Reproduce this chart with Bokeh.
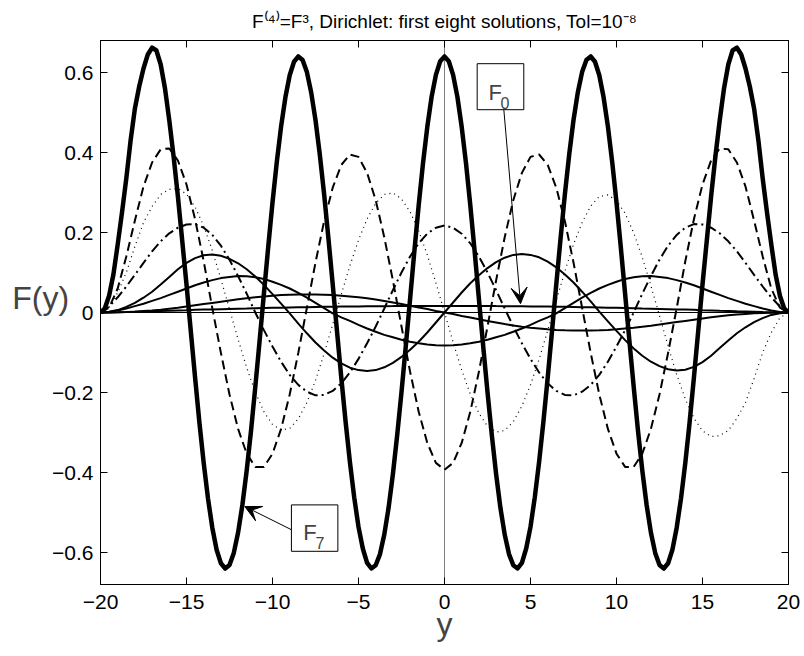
from bokeh.plotting import figure
from bokeh.models import (Range1d, FixedTicker, LinearAxis, Label, Arrow, VeeHead,
                          BoxAnnotation, Span, CustomJSTickFormatter)
from bokeh.embed import file_html
from bokeh.resources import INLINE

# ---------------- data ----------------
Y = [-20.0, -19.5, -19.0, -18.5, -18.0, -17.5, -17.0, -16.5, -16.0, -15.5,
     -15.0, -14.5, -14.0, -13.5, -13.0, -12.5, -12.0, -11.5, -11.0, -10.5,
     -10.0, -9.5, -9.0, -8.5, -8.0, -7.5, -7.0, -6.5, -6.0, -5.5,
     -5.0, -4.5, -4.0, -3.5, -3.0, -2.5, -2.0, -1.5, -1.0, -0.5,
     0.0,
     0.5, 1.0, 1.5, 2.0, 2.5, 3.0, 3.5, 4.0, 4.5, 5.0,
     5.5, 6.0, 6.5, 7.0, 7.5, 8.0, 8.5, 9.0, 9.5, 10.0,
     10.5, 11.0, 11.5, 12.0, 12.5, 13.0, 13.5, 14.0, 14.5, 15.0,
     15.5, 16.0, 16.5, 17.0, 17.5, 18.0, 18.5, 19.0, 19.5, 20.0]

# finer sampling for the large-amplitude solution F7
Y7 = [-20.0, -19.75, -19.5, -19.25, -19.0, -18.75, -18.5, -18.25,
      -18.0, -17.75, -17.5, -17.25, -17.0, -16.75, -16.5, -16.25,
      -16.0, -15.75, -15.5, -15.25, -15.0, -14.75, -14.5, -14.25,
      -14.0, -13.75, -13.5, -13.25, -13.0, -12.75, -12.5, -12.25,
      -12.0, -11.75, -11.5, -11.25, -11.0, -10.75, -10.5, -10.25,
      -10.0, -9.75, -9.5, -9.25, -9.0, -8.75, -8.5, -8.25,
      -8.0, -7.75, -7.5, -7.25, -7.0, -6.75, -6.5, -6.25,
      -6.0, -5.75, -5.5, -5.25, -5.0, -4.75, -4.5, -4.25,
      -4.0, -3.75, -3.5, -3.25, -3.0, -2.75, -2.5, -2.25,
      -2.0, -1.75, -1.5, -1.25, -1.0, -0.75, -0.5, -0.25,
      0.0,
      0.25, 0.5, 0.75, 1.0, 1.25, 1.5, 1.75, 2.0,
      2.25, 2.5, 2.75, 3.0, 3.25, 3.5, 3.75, 4.0,
      4.25, 4.5, 4.75, 5.0, 5.25, 5.5, 5.75, 6.0,
      6.25, 6.5, 6.75, 7.0, 7.25, 7.5, 7.75, 8.0,
      8.25, 8.5, 8.75, 9.0, 9.25, 9.5, 9.75, 10.0,
      10.25, 10.5, 10.75, 11.0, 11.25, 11.5, 11.75, 12.0,
      12.25, 12.5, 12.75, 13.0, 13.25, 13.5, 13.75, 14.0,
      14.25, 14.5, 14.75, 15.0, 15.25, 15.5, 15.75, 16.0,
      16.25, 16.5, 16.75, 17.0, 17.25, 17.5, 17.75, 18.0,
      18.25, 18.5, 18.75, 19.0, 19.25, 19.5, 19.75, 20.0]

F7 = [0.000, 0.010, 0.042, 0.095, 0.170, 0.250, 0.335, 0.430,
      0.510, 0.565, 0.610, 0.645, 0.662, 0.655, 0.620, 0.560,
      0.480, 0.390, 0.290, 0.180, 0.070, -0.047, -0.163, -0.275,
      -0.376, -0.465, -0.538, -0.593, -0.627, -0.640, -0.631, -0.601,
      -0.550, -0.481, -0.395, -0.296, -0.186, -0.071, 0.047, 0.163,
      0.275, 0.376, 0.465, 0.538, 0.593, 0.627, 0.640, 0.631,
      0.601, 0.550, 0.481, 0.395, 0.296, 0.186, 0.071, -0.047,
      -0.163, -0.273, -0.374, -0.462, -0.536, -0.590, -0.626, -0.640,
      -0.632, -0.604, -0.555, -0.488, -0.404, -0.306, -0.199, -0.084,
      0.034, 0.154, 0.268, 0.373, 0.464, 0.539, 0.594, 0.628,
      0.640,
      0.628, 0.594, 0.539, 0.464, 0.373, 0.268, 0.154, 0.034,
      -0.084, -0.199, -0.306, -0.404, -0.488, -0.555, -0.604, -0.632,
      -0.640, -0.626, -0.590, -0.536, -0.462, -0.374, -0.273, -0.163,
      -0.047, 0.071, 0.186, 0.296, 0.395, 0.481, 0.550, 0.601,
      0.631, 0.640, 0.627, 0.593, 0.538, 0.465, 0.376, 0.275,
      0.163, 0.047, -0.071, -0.186, -0.296, -0.395, -0.481, -0.550,
      -0.601, -0.631, -0.640, -0.627, -0.593, -0.538, -0.465, -0.376,
      -0.275, -0.163, -0.047, 0.070, 0.180, 0.290, 0.390, 0.480,
      0.560, 0.620, 0.655, 0.662, 0.645, 0.610, 0.565, 0.510,
      0.430, 0.335, 0.250, 0.170, 0.095, 0.042, 0.010, 0.000]

F6 = [0.000, 0.012, 0.060, 0.140, 0.230, 0.315, 0.375, 0.408, 0.410, 0.380,
      0.320, 0.233, 0.128, 0.011, -0.101, -0.205, -0.291, -0.353, -0.386, -0.386,
      -0.353, -0.291, -0.205, -0.101, 0.012, 0.125, 0.228, 0.312, 0.369, 0.395,
      0.389, 0.349, 0.281, 0.188, 0.080, -0.035, -0.148, -0.248, -0.326, -0.376,
      -0.393,
      -0.376, -0.326, -0.248, -0.148, -0.035, 0.080, 0.188, 0.281, 0.349, 0.389,
      0.395, 0.369, 0.312, 0.228, 0.125, 0.012, -0.101, -0.205, -0.291, -0.353,
      -0.386, -0.386, -0.353, -0.291, -0.205, -0.101, 0.011, 0.128, 0.233, 0.320,
      0.380, 0.410, 0.408, 0.375, 0.315, 0.230, 0.140, 0.060, 0.012, 0.000]

F5 = [0.000, 0.013, 0.050, 0.100, 0.165, 0.225, 0.265, 0.295, 0.308, 0.310,
      0.296, 0.264, 0.216, 0.155, 0.084, 0.008, -0.067, -0.138, -0.199, -0.248,
      -0.280, -0.294, -0.290, -0.266, -0.225, -0.170, -0.103, -0.030, 0.045, 0.117,
      0.181, 0.234, 0.273, 0.295, 0.299, 0.284, 0.252, 0.204, 0.144, 0.074,
      0.000,
      -0.074, -0.144, -0.204, -0.252, -0.284, -0.299, -0.295, -0.273, -0.234, -0.181,
      -0.117, -0.045, 0.030, 0.103, 0.170, 0.225, 0.266, 0.290, 0.294, 0.280,
      0.248, 0.199, 0.138, 0.067, -0.008, -0.084, -0.155, -0.216, -0.264, -0.296,
      -0.310, -0.308, -0.295, -0.265, -0.225, -0.165, -0.100, -0.050, -0.013, 0.000]

F4 = [0.000, 0.015, 0.038, 0.065, 0.094, 0.124, 0.153, 0.178, 0.198, 0.212,
      0.220, 0.221, 0.212, 0.194, 0.167, 0.132, 0.091, 0.047, 0.000, -0.044,
      -0.085, -0.123, -0.156, -0.181, -0.198, -0.207, -0.206, -0.196, -0.177, -0.150,
      -0.116, -0.077, -0.035, 0.010, 0.056, 0.100, 0.140, 0.173, 0.197, 0.212,
      0.2175,
      0.212, 0.197, 0.173, 0.140, 0.100, 0.056, 0.010, -0.035, -0.077, -0.116,
      -0.150, -0.177, -0.196, -0.206, -0.207, -0.198, -0.181, -0.156, -0.123, -0.085,
      -0.044, 0.000, 0.047, 0.091, 0.132, 0.167, 0.194, 0.212, 0.221, 0.220,
      0.212, 0.198, 0.178, 0.153, 0.124, 0.094, 0.065, 0.038, 0.015, 0.000]

F3 = [0.000, 0.002, 0.006, 0.014, 0.024, 0.037, 0.052, 0.070, 0.089, 0.108,
      0.124, 0.136, 0.143, 0.145, 0.142, 0.134, 0.123, 0.108, 0.090, 0.069,
      0.046, 0.022, -0.002, -0.028, -0.052, -0.075, -0.095, -0.113, -0.127, -0.138,
      -0.144, -0.146, -0.144, -0.137, -0.126, -0.111, -0.093, -0.073, -0.050, -0.025,
      0.000,
      0.025, 0.050, 0.073, 0.093, 0.111, 0.126, 0.137, 0.144, 0.146, 0.144,
      0.138, 0.127, 0.113, 0.095, 0.075, 0.052, 0.028, 0.002, -0.022, -0.046,
      -0.069, -0.090, -0.108, -0.123, -0.134, -0.142, -0.145, -0.143, -0.136, -0.124,
      -0.108, -0.089, -0.070, -0.052, -0.037, -0.024, -0.014, -0.006, -0.002, 0.000]

F2 = [0.000, 0.0015, 0.005, 0.010, 0.016, 0.022, 0.029, 0.036, 0.044, 0.052,
      0.060, 0.068, 0.075, 0.081, 0.086, 0.089, 0.091, 0.0905, 0.088, 0.084,
      0.077, 0.069, 0.060, 0.049, 0.037, 0.024, 0.011, -0.002, -0.012, -0.021,
      -0.031, -0.040, -0.048, -0.056, -0.062, -0.068, -0.073, -0.077, -0.080, -0.082,
      -0.0825,
      -0.082, -0.080, -0.077, -0.073, -0.068, -0.062, -0.056, -0.048, -0.040, -0.031,
      -0.021, -0.012, -0.002, 0.011, 0.024, 0.037, 0.049, 0.060, 0.069, 0.077,
      0.084, 0.088, 0.0905, 0.091, 0.089, 0.086, 0.081, 0.075, 0.068, 0.060,
      0.052, 0.044, 0.036, 0.029, 0.022, 0.016, 0.010, 0.005, 0.0015, 0.000]

F1 = [0.000, 0.0001, 0.0005, 0.001, 0.002, 0.0035, 0.005, 0.007, 0.0095, 0.012,
      0.015, 0.018, 0.021, 0.024, 0.027, 0.030, 0.033, 0.0355, 0.038, 0.040,
      0.042, 0.0435, 0.0445, 0.045, 0.045, 0.045, 0.0445, 0.0435, 0.042, 0.040,
      0.038, 0.0355, 0.0325, 0.029, 0.025, 0.021, 0.017, 0.0125, 0.0085, 0.004,
      0.000,
      -0.004, -0.0085, -0.0125, -0.017, -0.021, -0.025, -0.029, -0.0325, -0.0355, -0.038,
      -0.040, -0.042, -0.0435, -0.0445, -0.045, -0.045, -0.045, -0.0445, -0.0435, -0.042,
      -0.040, -0.038, -0.0355, -0.033, -0.030, -0.027, -0.024, -0.021, -0.018, -0.015,
      -0.012, -0.0095, -0.007, -0.005, -0.0035, -0.002, -0.001, -0.0005, -0.0001, 0.000]

F0 = [0.0000, 0.0002, 0.0007, 0.0013, 0.0020, 0.0027, 0.0033, 0.0040, 0.0046, 0.0053,
      0.0059, 0.0066, 0.0072, 0.0078, 0.0084, 0.0090, 0.0096, 0.0101, 0.0107, 0.0112,
      0.0117, 0.0121, 0.0126, 0.0130, 0.0134, 0.0138, 0.0142, 0.0145, 0.0148, 0.0150,
      0.0153, 0.0155, 0.0157, 0.0159, 0.0160, 0.0162, 0.0163, 0.0164, 0.0164, 0.0165,
      0.0165,
      0.0165, 0.0164, 0.0164, 0.0163, 0.0162, 0.0160, 0.0159, 0.0157, 0.0155, 0.0153,
      0.0150, 0.0148, 0.0145, 0.0142, 0.0138, 0.0134, 0.0130, 0.0126, 0.0121, 0.0117,
      0.0112, 0.0107, 0.0101, 0.0096, 0.0090, 0.0084, 0.0078, 0.0072, 0.0066, 0.0059,
      0.0053, 0.0046, 0.0040, 0.0033, 0.0027, 0.0020, 0.0013, 0.0007, 0.0002, 0.0000]

XTICKS = [-20, -15, -10, -5, 0, 5, 10, 15, 20]
XTICK_LABELS = ["\u221220", "\u221215", "\u221210", "\u22125", "0", "5", "10", "15", "20"]
YTICKS = [-0.6, -0.4, -0.2, 0, 0.2, 0.4, 0.6]
YTICK_LABELS = ["\u22120.6", "\u22120.4", "\u22120.2", "0", "0.2", "0.4", "0.6"]

TITLE = "F\u207d\u2074\u207e=F\u00b3, Dirichlet: first eight solutions, Tol=10\u207b\u2078"

for arr in (F6, F5, F4, F3, F2, F1, F0):
    assert len(arr) == len(Y), len(arr)
assert len(F7) == len(Y7), (len(F7), len(Y7))

FONT = "Liberation Sans"

# ---------------- figure ----------------
p = figure(width=804, height=656, output_backend="svg", toolbar_location=None,
           x_range=Range1d(-20, 20), y_range=Range1d(-0.68, 0.68),
           min_border_left=100, min_border_right=16, min_border_top=40,
           min_border_bottom=72)
p.background_fill_color = "white"
p.border_fill_color = "white"
p.outline_line_color = "black"
p.outline_line_width = 1
p.xgrid.visible = False
p.ygrid.visible = False

p.title.text = TITLE
p.title.align = "center"
p.title.text_font = FONT
p.title.text_font_size = "19px"
p.title.text_font_style = "normal"
p.title.text_color = "black"
p.title.standoff = 17


def style_axis(ax, ticks, labels=None):
    ax.ticker = FixedTicker(ticks=ticks)
    ax.axis_line_color = "black"
    ax.axis_line_width = 1
    ax.major_tick_in = 7
    ax.major_tick_out = 0
    ax.minor_tick_in = 0
    ax.minor_tick_out = 0
    ax.major_tick_line_color = "black"
    ax.major_label_text_font = FONT
    ax.major_label_text_color = "black"
    ax.major_label_text_font_size = "21px"
    if labels is None:
        ax.formatter = CustomJSTickFormatter(code="return '';")
        ax.major_label_standoff = 0
    else:
        ax.major_label_overrides = dict(zip(ticks, labels))


xa = p.xaxis[0]
style_axis(xa, XTICKS, XTICK_LABELS)
xa.major_label_standoff = 10
xa.axis_label = "y"
xa.axis_label_text_font = FONT
xa.axis_label_text_font_size = "32px"
xa.axis_label_text_font_style = "normal"
xa.axis_label_standoff = -6

ya = p.yaxis[0]
style_axis(ya, YTICKS, YTICK_LABELS)
ya.major_label_standoff = 7
ya.axis_label = "F(y)\n"
ya.axis_label_text_font = FONT
ya.axis_label_text_font_size = "32px"
ya.axis_label_text_font_style = "normal"
ya.axis_label_text_line_height = 0.8
if "axis_label_orientation" in ya.properties():
    ya.axis_label_orientation = "horizontal"
    ya.axis_label_standoff = -20
else:
    ya.axis_label_standoff = 0

ax_r = LinearAxis()
style_axis(ax_r, YTICKS)
p.add_layout(ax_r, "right")
ax_t = LinearAxis()
style_axis(ax_t, XTICKS)
p.add_layout(ax_t, "above")

# reference lines
p.add_layout(Span(location=0, dimension="height", line_color="#7f7f7f",
                  line_width=1, level="underlay"))
p.add_layout(Span(location=0, dimension="width", line_color="black",
                  line_width=1, level="underlay"))

# curves
p.line(Y, F0, line_color="black", line_width=2)
p.line(Y, F1, line_color="black", line_width=2)
p.line(Y, F2, line_color="black", line_width=2)
p.line(Y, F3, line_color="black", line_width=2)
p.line(Y, F4, line_color="black", line_width=2, line_dash="10 4 2 4")
p.line(Y, F5, line_color="black", line_width=1.2, line_dash="1 4")
p.line(Y, F6, line_color="black", line_width=2, line_dash="9 5")
p.line(Y7, F7, line_color="black", line_width=4.5, line_join="round")

# annotation boxes + arrows
p.add_layout(BoxAnnotation(left=1.9, right=4.61, bottom=0.507, top=0.622,
                           fill_color="white", fill_alpha=1.0,
                           line_color="black", line_alpha=1.0, line_width=1))
p.add_layout(Label(x=2.56, y=0.55, text="F", text_font=FONT, text_font_size="22px",
                   text_baseline="alphabetic", text_align="left"))
p.add_layout(Label(x=3.26, y=0.525, text="0", text_font=FONT, text_font_size="16px",
                   text_baseline="alphabetic", text_align="left"))
p.add_layout(Arrow(end=VeeHead(size=16, fill_color="black", line_color="black"),
                   x_start=3.45, y_start=0.507, x_end=4.42, y_end=0.022,
                   line_color="black", line_width=1))

p.add_layout(BoxAnnotation(left=-8.9, right=-6.2, bottom=-0.597, top=-0.481,
                           fill_color="white", fill_alpha=1.0,
                           line_color="black", line_alpha=1.0, line_width=1))
p.add_layout(Label(x=-8.215, y=-0.549, text="F", text_font=FONT, text_font_size="22px",
                   text_baseline="alphabetic", text_align="left"))
p.add_layout(Label(x=-7.5, y=-0.575, text="7", text_font=FONT, text_font_size="16px",
                   text_baseline="alphabetic", text_align="left"))
p.add_layout(Arrow(end=VeeHead(size=16, fill_color="black", line_color="black"),
                   x_start=-8.9, y_start=-0.543, x_end=-11.61, y_end=-0.485,
                   line_color="black", line_width=1))

open("out.html", "w").write(file_html(p, INLINE))
